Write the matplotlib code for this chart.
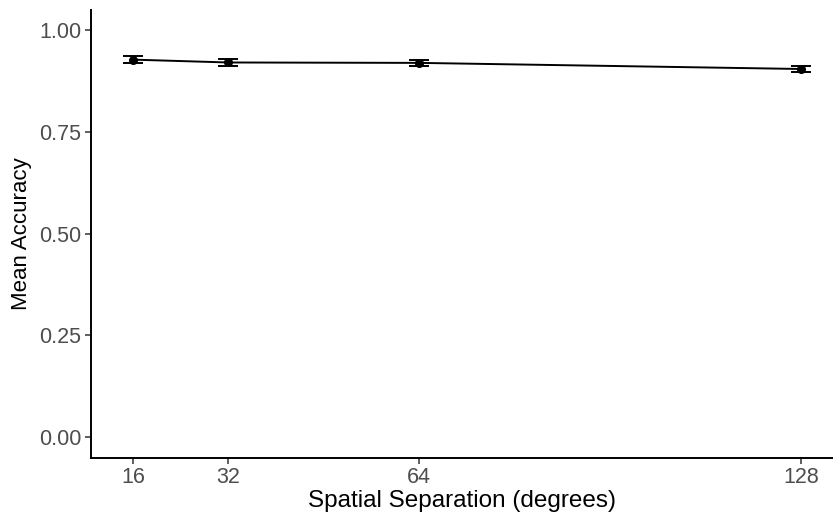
import matplotlib as mpl
mpl.use('Agg')
import matplotlib.pyplot as plt

plt.rcParams['font.family'] = ['Liberation Sans', 'DejaVu Sans']

# data
separation = [16, 32, 64, 128]
accuracy = [0.928, 0.921, 0.920, 0.905]
err = [0.009, 0.008, 0.008, 0.008]

fig = plt.figure(figsize=(8.33, 5.17), dpi=100)
ax = fig.add_axes([91 / 833, (517 - 457.5) / 517, (833 - 91) / 833, (457.5 - 10) / 517])

ax.plot(separation, accuracy, color='black', lw=1.4, zorder=2)
ax.errorbar(separation, accuracy, yerr=err, fmt='o', color='black', ms=5.5,
            capsize=7, capthick=1.4, elinewidth=1.4, zorder=3)

ax.set_xlim(8.96, 133.4)
ax.set_ylim(-0.05, 1.05)
ax.set_xticks(separation)
ax.set_yticks([0, 0.25, 0.5, 0.75, 1.0])
ax.set_yticklabels(['0.00', '0.25', '0.50', '0.75', '1.00'])

for s in ['top', 'right']:
    ax.spines[s].set_visible(False)
for s in ['left', 'bottom']:
    ax.spines[s].set_linewidth(1.4)
    ax.spines[s].set_color('black')

ax.tick_params(axis='both', length=4, width=1.1, color='#333333',
               labelsize=15.5, labelcolor='#4D4D4D', pad=3)

ax.set_xlabel('Spatial Separation (degrees)', fontsize=17.5, labelpad=1)
ax.set_ylabel('Mean Accuracy', fontsize=16, labelpad=5)

plt.savefig('out.png', dpi=100)
